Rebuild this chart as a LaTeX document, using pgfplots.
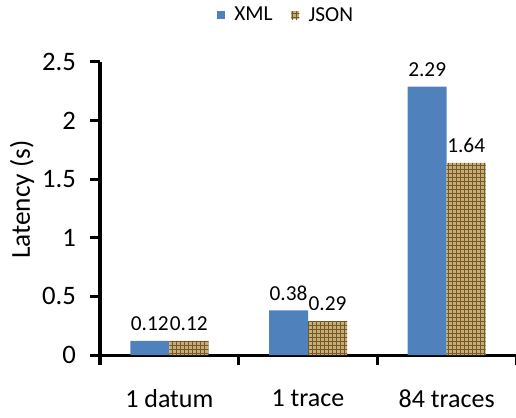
\documentclass[border=0pt]{standalone}
\usepackage{pgfplots}
\pgfplotsset{compat=1.18}
\usepackage{fontspec}
\setmainfont{Carlito}
\usetikzlibrary{patterns}
\definecolor{xmlblue}{RGB}{79,129,189}
\definecolor{jsontan}{RGB}{200,173,115}
\definecolor{jsonbrown}{RGB}{115,88,45}
\begin{document}
\begin{tikzpicture}
\path[use as bounding box] (-75pt,-46.5pt) rectangle (312pt,266.25pt);
\begin{axis}[
  at={(0,0)}, anchor=south west,
  scale only axis, width=312pt, height=219.75pt,
  xmin=-0.5, xmax=2.5, ymin=0, ymax=2.5,
  axis x line*=bottom, axis y line*=left,
  axis line style={line width=2.25pt, black},
  clip=false,
  ybar=0pt, bar width=29.25pt,
  xtick={0,1,2}, xticklabels={1 datum, 1 trace, 84 traces},
  minor xtick={-0.5,0.5,1.5,2.5},
  ytick={0,0.5,1,1.5,2,2.5},
  tick align=outside,
  major tick length=7.5pt, minor tick length=7.5pt,
  tick style={line width=2.25pt, black},
  major x tick style={draw=none},
  /pgf/number format/assume math mode=true,
  yticklabel style={font=\fontsize{20}{24}\selectfont, xshift=-7pt},
  xticklabel style={font=\fontsize{19.5}{23}\selectfont, yshift=-15pt},
  ylabel={Latency (s)},
  ylabel style={font=\fontsize{20.5}{24}\selectfont, at={(axis description cs:-0.1875,0.53)}, anchor=center},
  nodes near coords,
  every node near coord/.append style={font=\fontsize{16}{19}\selectfont, black, yshift=4pt},
  legend style={at={(0.448,1.16)}, anchor=center, draw=none, fill=none,
    legend columns=2, font=\fontsize{16}{19}\selectfont,
    /tikz/every odd column/.append style={column sep=5pt},
    /tikz/every even column/.append style={column sep=12pt}},
  legend image code/.code={\draw[#1, draw=none] (0pt,-3pt) rectangle (6pt,3pt);},
]
\addplot[fill=xmlblue, draw=none] coordinates {(0,0.12) (1,0.38) (2,2.29)};
\addplot[fill=jsontan, draw=none, postaction={pattern=grid, pattern color=jsonbrown}] coordinates {(0,0.12) (1,0.29) (2,1.64)};
\legend{XML, JSON}
\end{axis}
\end{tikzpicture}
\end{document}
